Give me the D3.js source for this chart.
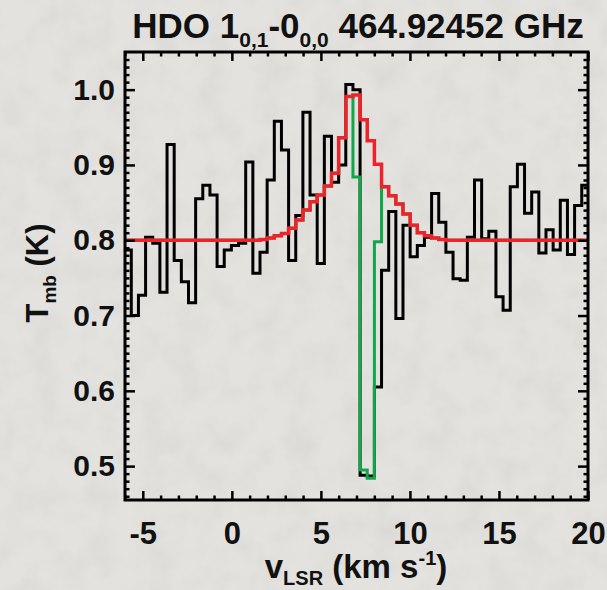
<!DOCTYPE html>
<html>
<head>
<meta charset="utf-8">
<script src="https://cdn.jsdelivr.net/npm/d3@7"></script>
<style>
  html, body { margin: 0; padding: 0; background: #e4e2de; }
  svg { display: block; }
  text { font-family: "Liberation Sans", Arial, Helvetica, sans-serif; font-weight: bold; fill: #111; }
</style>
</head>
<body>
<div id="chart"></div>
<script>
// channel centres (km/s)
var velocity = [-5.847,-5.446,-5.044,-4.643,-4.241,-3.840,-3.438,-3.037,-2.635,-2.234,
  -1.832,-1.431,-1.029,-0.628,-0.226,0.176,0.577,0.979,1.380,1.782,
  2.183,2.585,2.986,3.388,3.789,4.191,4.592,4.994,5.395,5.797,
  6.198,6.600,7.001,7.403,7.804,8.206,8.607,9.009,9.410,9.812,
  10.213,10.615,11.016,11.418,11.819,12.221,12.622,13.024,13.425,13.827,
  14.228,14.630,15.031,15.433,15.834,16.236,16.637,17.039,17.440,17.842,
  18.243,18.645,19.046,19.448,19.849]

// observed spectrum (K)
var tObserved = [0.787,0.700,0.727,0.804,0.796,0.731,0.927,0.773,0.745,0.717,
  0.855,0.873,0.860,0.765,0.787,0.793,0.796,0.904,0.756,0.784,
  0.880,0.958,0.920,0.773,0.833,0.970,0.860,0.769,0.938,0.877,
  0.900,1.007,1.000,0.488,0.487,0.605,0.760,0.838,0.696,0.820,
  0.778,0.793,0.804,0.862,0.824,0.784,0.749,0.747,0.804,0.880,
  0.802,0.812,0.725,0.707,0.871,0.901,0.836,0.864,0.783,0.814,
  0.787,0.853,0.781,0.846,0.873]

// model, emission only (red)
var tModel = [0.800,0.800,0.800,0.800,0.800,0.800,0.800,0.800,0.800,0.800,
  0.800,0.800,0.800,0.800,0.800,0.800,0.800,0.800,0.800,0.801,
  0.803,0.806,0.809,0.816,0.827,0.840,0.851,0.860,0.872,0.889,
  0.936,0.991,0.993,0.960,0.932,0.901,0.871,0.859,0.848,0.835,
  0.820,0.810,0.806,0.803,0.801,0.800,0.800,0.800,0.800,0.800,
  0.800,0.800,0.800,0.800,0.800,0.800,0.800,0.800,0.800,0.800,
  0.800,0.800,0.800,0.800,0.800]

// model with absorbing layer (green)
var tModelAbs = [0.800,0.800,0.800,0.800,0.800,0.800,0.800,0.800,0.800,0.800,
  0.800,0.800,0.800,0.800,0.800,0.800,0.800,0.800,0.800,0.801,
  0.803,0.806,0.809,0.816,0.827,0.840,0.851,0.860,0.872,0.889,
  0.936,0.991,0.884,0.495,0.484,0.798,0.871,0.859,0.848,0.835,
  0.820,0.810,0.806,0.803,0.801,0.800,0.800,0.800,0.800,0.800,
  0.800,0.800,0.800,0.800,0.800,0.800,0.800,0.800,0.800,0.800,
  0.800,0.800,0.800,0.800,0.800]

var xMajor = [-5,0,5,10,15,20]
var xMinor = [-6,-4,-3,-2,-1,1,2,3,4,6,7,8,9,11,12,13,14,16,17,18,19]
var yMajor = [0.5,0.6,0.7,0.8,0.9,1.0]

var width = 607, height = 590
var plot = {left: 125, right: 588, top: 52, bottom: 500}

var x = d3.scaleLinear().domain([-6, 20]).range([plot.left, plot.right])
var y = d3.scaleLinear().domain([0.455, 1.05]).range([plot.bottom, plot.top])

var yMinor = d3.range(46, 105).map(function(i){ return i / 100 })
  .filter(function(v){ return Math.round(v * 100) % 10 != 0 })

var svg = d3.select("#chart").append("svg")
  .attr("width", width)
  .attr("height", height)

// paper texture
var defs = svg.append("defs")
var noise = defs.append("filter").attr("id", "paper")
  .attr("x", 0).attr("y", 0).attr("width", "100%").attr("height", "100%")
noise.append("feTurbulence")
  .attr("type", "fractalNoise").attr("baseFrequency", 0.035).attr("numOctaves", 3).attr("seed", 4)
noise.append("feColorMatrix")
  .attr("type", "matrix")
  .attr("values", "0 0 0 0 0.45  0 0 0 0 0.44  0 0 0 0 0.42  0 0 0 0.9 -0.35")

svg.append("rect").attr("width", width).attr("height", height).attr("fill", "#e4e2de")
svg.append("rect").attr("width", width).attr("height", height)
  .attr("filter", "url(#paper)").attr("opacity", 0.35)

defs.append("clipPath").attr("id", "clip")
  .append("rect")
  .attr("x", plot.left).attr("y", plot.top)
  .attr("width", plot.right - plot.left).attr("height", plot.bottom - plot.top)

var dv = velocity[1] - velocity[0]

function stepPoints(values){
  var pts = []
  velocity.forEach(function(v, i){
    pts.push([v - dv / 2, values[i]])
    pts.push([v + dv / 2, values[i]])
  })
  return pts
}

var line = d3.line()
  .x(function(d){ return x(d[0]) })
  .y(function(d){ return y(d[1]) })

var g = svg.append("g").attr("clip-path", "url(#clip)")

g.append("path")
  .attr("d", line(stepPoints(tObserved)))
  .attr("fill", "none").attr("stroke", "#000").attr("stroke-width", 3)
  .attr("stroke-linejoin", "miter")

g.append("path")
  .attr("d", line(stepPoints(tModelAbs)))
  .attr("fill", "none").attr("stroke", "#12a54a").attr("stroke-width", 3)

g.append("path")
  .attr("d", line(stepPoints(tModel)))
  .attr("fill", "none").attr("stroke", "#ee2229").attr("stroke-width", 3.5)

// ticks, all pointing inwards
function drawAxis(axis, tx, ty){
  var a = svg.append("g")
    .attr("transform", "translate(" + tx + "," + ty + ")")
    .call(axis)
  a.select(".domain").remove()
  a.selectAll(".tick line").attr("stroke", "#000").attr("stroke-width", 2.5)
  return a
}

function hyphen(d){ return String(d) }

var bottomAxis = drawAxis(d3.axisBottom(x).tickValues(xMajor).tickSize(-9).tickPadding(22)
  .tickFormat(hyphen), 0, plot.bottom)
bottomAxis.selectAll("text").attr("font-size", 31).attr("fill", "#111")
  .attr("font-family", "Liberation Sans, Arial, sans-serif").attr("font-weight", "bold")
drawAxis(d3.axisBottom(x).tickValues(xMinor).tickSize(-4.5).tickFormat(""), 0, plot.bottom)
drawAxis(d3.axisTop(x).tickValues(xMajor).tickSize(-9).tickFormat(""), 0, plot.top)
drawAxis(d3.axisTop(x).tickValues(xMinor).tickSize(-4.5).tickFormat(""), 0, plot.top)

var leftAxis = drawAxis(d3.axisLeft(y).tickValues(yMajor).tickSize(-10).tickPadding(10)
  .tickFormat(d3.format(".1f")), plot.left, 0)
leftAxis.selectAll("text").attr("font-size", 30).attr("fill", "#111")
  .attr("font-family", "Liberation Sans, Arial, sans-serif").attr("font-weight", "bold")
drawAxis(d3.axisLeft(y).tickValues(yMinor).tickSize(-4.5).tickFormat(""), plot.left, 0)
drawAxis(d3.axisRight(y).tickValues(yMajor).tickSize(-10).tickFormat(""), plot.right, 0)
drawAxis(d3.axisRight(y).tickValues(yMinor).tickSize(-4.5).tickFormat(""), plot.right, 0)

svg.append("rect")
  .attr("x", plot.left).attr("y", plot.top)
  .attr("width", plot.right - plot.left).attr("height", plot.bottom - plot.top)
  .attr("fill", "none").attr("stroke", "#000").attr("stroke-width", 3)

// title
var title = svg.append("text")
  .attr("x", 358).attr("y", 38)
  .attr("text-anchor", "middle")
  .attr("font-size", 35)
title.append("tspan").text("HDO 1")
title.append("tspan").attr("font-size", 21).attr("dy", 9).text("0,1")
title.append("tspan").attr("dy", -9).text("-0")
title.append("tspan").attr("font-size", 21).attr("dy", 9).text("0,0")
title.append("tspan").attr("dy", -9).text(" 464.92452 GHz")

// x label
var xlab = svg.append("text")
  .attr("x", 356).attr("y", 578)
  .attr("text-anchor", "middle")
  .attr("font-size", 33)
xlab.append("tspan").text("v")
xlab.append("tspan").attr("font-size", 20).attr("dy", 7).text("LSR")
xlab.append("tspan").attr("dy", -7).text(" (km s")
xlab.append("tspan").attr("font-size", 20).attr("dy", -13).text("-1")
xlab.append("tspan").attr("dy", 13).text(")")

// y label
var ylab = svg.append("text")
  .attr("transform", "translate(48,273) rotate(-90)")
  .attr("text-anchor", "middle")
  .attr("font-size", 31)
ylab.append("tspan").text("T")
ylab.append("tspan").attr("font-size", 19).attr("dy", 8).text("mb")
ylab.append("tspan").attr("dy", -8).text(" (K)")
</script>
</body>
</html>
